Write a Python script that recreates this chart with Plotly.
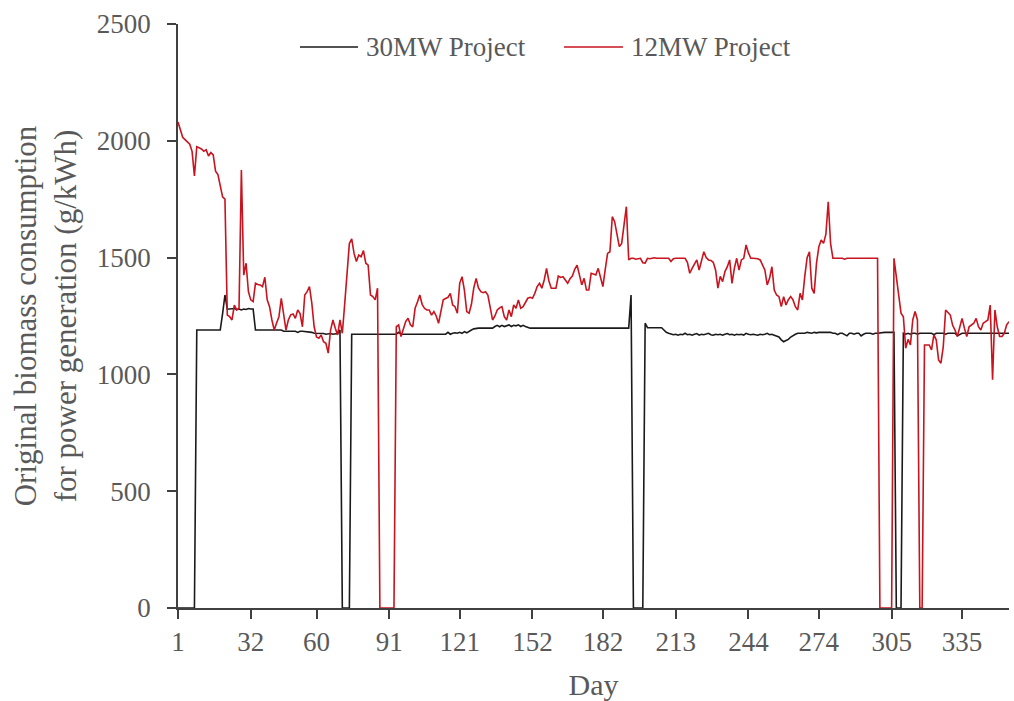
import plotly.graph_objects as go

# Day index 1..355
days = list(range(1, 356))

# 12MW Project (red) - original biomass consumption (g/kWh), read per day
red_12mw = [
    2080, 2050, 2015, 2005, 1995, 1985, 1955, 1850, 1975, 1970,
    1965, 1955, 1962, 1935, 1950, 1940, 1870, 1855, 1800, 1760,
    1750, 1254, 1247, 1233, 1297, 1276, 1283, 1875, 1425, 1476,
    1354, 1319, 1312, 1390, 1385, 1383, 1376, 1416, 1319, 1290,
    1233, 1190, 1220, 1247, 1326, 1262, 1190, 1233, 1255, 1259,
    1240, 1276, 1260, 1204, 1340, 1354, 1376, 1305, 1204, 1160,
    1155, 1169, 1140, 1133, 1091, 1190, 1233, 1198, 1169, 1233,
    1176, 1300, 1430, 1560, 1580, 1518, 1483, 1511, 1504, 1530,
    1476, 1468, 1340, 1333, 1319, 1369, 0, 0, 0, 0,
    0, 0, 0, 1204, 1212, 1162, 1190, 1226, 1240, 1212,
    1204, 1283, 1310, 1340, 1300, 1283, 1276, 1276, 1254, 1269,
    1250, 1219, 1270, 1319, 1325, 1330, 1347, 1297, 1290, 1262,
    1390, 1418, 1361, 1269, 1262, 1300, 1370, 1411, 1370, 1354,
    1350, 1354, 1340, 1290, 1233, 1250, 1276, 1285, 1290, 1247,
    1233, 1276, 1247, 1297, 1283, 1319, 1283, 1290, 1310, 1326,
    1330, 1326, 1347, 1376, 1390, 1369, 1404, 1454, 1400, 1369,
    1369, 1369, 1421, 1415, 1418, 1404, 1390, 1410, 1421, 1450,
    1468, 1426, 1383, 1411, 1361, 1361, 1433, 1430, 1426, 1454,
    1411, 1376, 1450, 1518, 1525, 1675, 1654, 1600, 1547, 1561,
    1650, 1718, 1490, 1497, 1497, 1493, 1495, 1497, 1478, 1476,
    1497, 1495, 1497, 1499, 1497, 1497, 1496, 1497, 1497, 1497,
    1483, 1495, 1497, 1497, 1497, 1497, 1497, 1480, 1433, 1454,
    1470, 1490, 1447, 1490, 1525, 1500, 1490, 1488, 1480, 1447,
    1369, 1420, 1397, 1440, 1461, 1490, 1390, 1454, 1497, 1447,
    1490, 1497, 1554, 1520, 1497, 1497, 1497, 1495, 1490, 1470,
    1447, 1383, 1411, 1461, 1361, 1340, 1333, 1290, 1333, 1297,
    1320, 1333, 1319, 1290, 1276, 1347, 1319, 1420, 1500, 1525,
    1369, 1347, 1476, 1547, 1575, 1561, 1600, 1739, 1560, 1497,
    1497, 1495, 1497, 1497, 1493, 1497, 1497, 1497, 1495, 1497,
    1497, 1497, 1497, 1497, 1497, 1497, 1497, 1497, 1497, 0,
    0, 0, 0, 0, 0, 1497, 1420, 1330, 1262, 1247,
    1112, 1150, 1126, 1233, 1269, 1233, 0, 0, 1126, 1126,
    1126, 1105, 1169, 1148, 1062, 1048, 1119, 1276, 1265, 1254,
    1210, 1190, 1162, 1204, 1240, 1198, 1162, 1204, 1210, 1219,
    1240, 1204, 1190, 1219, 1226, 1233, 1297, 977, 1276, 1204,
    1162, 1162, 1176, 1212, 1226,
]

# 30MW Project (black)
black_30mw = [
    0, 0, 0, 0, 0, 0, 0, 0, 1190, 1190,
    1190, 1190, 1190, 1190, 1190, 1190, 1190, 1190, 1190, 1260,
    1340, 1279, 1280, 1278, 1282, 1278, 1280, 1276, 1280, 1278,
    1282, 1280, 1280, 1190, 1190, 1190, 1190, 1190, 1190, 1190,
    1190, 1190, 1190, 1190, 1190, 1185, 1185, 1184, 1185, 1185,
    1185, 1180, 1185, 1185, 1184, 1185, 1183, 1180, 1176, 1176,
    1175, 1175, 1175, 1172, 1175, 1175, 1172, 1175, 1175, 1190,
    0, 0, 0, 0, 1172, 1172, 1172, 1172, 1172, 1172,
    1172, 1172, 1172, 1172, 1172, 1172, 1172, 1172, 1172, 1172,
    1172, 1172, 1172, 1172, 1180, 1172, 1172, 1172, 1172, 1172,
    1172, 1172, 1172, 1172, 1172, 1172, 1172, 1172, 1172, 1172,
    1172, 1172, 1172, 1172, 1172, 1180, 1172, 1176, 1178, 1176,
    1180, 1176, 1183, 1178, 1185, 1190, 1195, 1198, 1198, 1198,
    1198, 1198, 1198, 1198, 1198, 1205, 1210, 1204, 1210, 1205,
    1210, 1212, 1205, 1210, 1208, 1212, 1205, 1210, 1205, 1200,
    1198, 1198, 1198, 1198, 1198, 1198, 1198, 1198, 1198, 1198,
    1198, 1198, 1198, 1198, 1198, 1198, 1198, 1198, 1198, 1198,
    1198, 1198, 1198, 1198, 1198, 1198, 1198, 1198, 1198, 1198,
    1198, 1198, 1198, 1198, 1198, 1198, 1198, 1198, 1198, 1198,
    1198, 1198, 1198, 1340, 0, 0, 0, 0, 0, 1219,
    1200, 1200, 1200, 1200, 1200, 1200, 1200, 1190, 1180, 1176,
    1172, 1170, 1172, 1168, 1172, 1170, 1176, 1170, 1172, 1168,
    1172, 1175, 1168, 1172, 1170, 1172, 1176, 1170, 1168, 1172,
    1170, 1172, 1168, 1172, 1175, 1170, 1172, 1168, 1172, 1170,
    1172, 1168, 1176, 1172, 1170, 1172, 1170, 1168, 1172, 1170,
    1172, 1176, 1170, 1172, 1168, 1165, 1160, 1148, 1140, 1145,
    1150, 1160, 1168, 1172, 1176, 1176, 1178, 1176, 1180, 1178,
    1176, 1180, 1178, 1180, 1180, 1180, 1178, 1180, 1180, 1176,
    1176, 1170, 1176, 1176, 1172, 1165, 1176, 1176, 1172, 1176,
    1176, 1165, 1172, 1176, 1176, 1176, 1172, 1176, 1176, 1178,
    1178, 1180, 1180, 1180, 1182, 1180, 0, 0, 0, 1176,
    1172, 1176, 1172, 1176, 1176, 1172, 1176, 1176, 1176, 1176,
    1176, 1176, 1170, 1176, 1176, 1176, 1176, 1172, 1176, 1176,
    1176, 1176, 1165, 1172, 1176, 1176, 1176, 1176, 1176, 1176,
    1176, 1176, 1176, 1176, 1176, 1176, 1176, 1176, 1176, 1176,
    1176, 1176, 1176, 1176, 1176,
]

x_tickvals = [1, 32, 60, 91, 121, 152, 182, 213, 244, 274, 305, 335]
x_ticktext = [str(v) for v in x_tickvals]
y_tickvals = [0, 500, 1000, 1500, 2000, 2500]

series_names = ["30MW Project", "12MW Project"]
BLACK = "#1a1a1a"
RED = "#C8141E"
TEXT = "#595959"
AXIS = "#404040"
FONT = "Liberation Serif, Times New Roman, serif"

fig = go.Figure()
fig.add_trace(go.Scatter(x=days, y=black_30mw, mode="lines", name=series_names[0],
                         line=dict(color=BLACK, width=1.6), showlegend=False))
fig.add_trace(go.Scatter(x=days, y=red_12mw, mode="lines", name=series_names[1],
                         line=dict(color=RED, width=1.6), showlegend=False))

# legend drawn as shapes + text for matching sample length
leg = [(300, 358, 364, series_names[0], BLACK), (564, 623, 629, series_names[1], RED)]
W, H = 1014, 701
L, R, T, B = 178, 5, 24, 93
pw, ph = W - L - R, H - T - B
for x0, x1, xt, name, col in leg:
    yp = (H - 47 - B) / ph
    fig.add_shape(type="line", xref="paper", yref="paper",
                  x0=(x0 - L) / pw, x1=(x1 - L) / pw, y0=yp, y1=yp,
                  line=dict(color=col, width=1.6))
    fig.add_annotation(xref="paper", yref="paper", x=(xt - L) / pw, y=yp,
                       text=name, showarrow=False, xanchor="left", yanchor="middle",
                       font=dict(family=FONT, size=27, color=TEXT))

fig.update_layout(
    width=W, height=H,
    margin=dict(l=L, r=R, t=T, b=B, autoexpand=False),
    paper_bgcolor="white", plot_bgcolor="white",
    font=dict(family=FONT, size=27, color=TEXT),
    showlegend=False,
)
fig.update_xaxes(
    range=[1, 355], tickmode="array", tickvals=x_tickvals, ticktext=x_ticktext,
    automargin=False,
    showgrid=False, zeroline=False, showline=True, linecolor=AXIS, linewidth=1.5,
    ticks="outside", ticklen=9, tickcolor=AXIS, tickwidth=1.5,
    tickfont=dict(family=FONT, size=27, color=TEXT),
    title=dict(text="Day", font=dict(family=FONT, size=30, color=TEXT), standoff=20),
)
fig.update_yaxes(
    range=[0, 2500], tickmode="array", tickvals=y_tickvals,
    automargin=False,
    showgrid=False, zeroline=False, showline=True, linecolor=AXIS, linewidth=1.5,
    ticks="outside", ticklen=9, tickcolor=AXIS, tickwidth=1.5, ticklabelstandoff=11,
    tickfont=dict(family=FONT, size=27, color=TEXT),
    title=dict(text="Original biomass consumption<br>for power generation (g/kWh)",
               font=dict(family=FONT, size=31, color=TEXT), standoff=11),
)

fig.write_html("out.html", config={"displayModeBar": False},
               post_script="document.body.style.margin='0';")
